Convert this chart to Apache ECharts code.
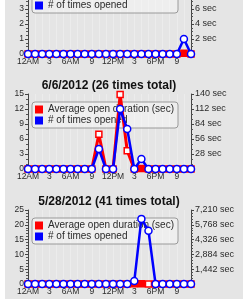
<!DOCTYPE html>
<html><head><meta charset="utf-8">
<script src="https://cdn.jsdelivr.net/npm/echarts@6/dist/echarts.min.js"></script>
<style>
html,body{margin:0;padding:0;background:#fff;width:243px;height:307px;overflow:hidden;}
#wrap{position:absolute;left:5px;top:0;width:238px;height:299px;overflow:hidden;background:#e5e5e5;}
#chart{position:absolute;left:0;top:-115px;width:238px;height:422px;}
</style></head><body><div id="wrap"><div id="chart"></div></div>
<script>
const hourCategories = ['12AM','1AM','2AM','3AM','4AM','5AM','6AM','7AM','8AM','9AM','10AM','11AM','12PM','1PM','2PM','3PM','4PM','5PM','6PM','7PM','8PM','9PM','10PM','11PM'];
const hourTickLabels = ['12AM','','','3','','','6AM','','','9','','','12PM','','','3','','','6PM','','','9','',''];
const seriesNames = ['Average open duration (sec)', '# of times opened'];
const chartTitles = ['', '6/6/2012 (26 times total)', '5/28/2012 (41 times total)'];

const counts1    = [0,0,0,0,0,0,0,0,0,0,0,0,0,0,0,0,0,0,0,0,0,0,1,0];
const durations1 = [0,0,0,0,0,0,0,0,0,0,0,0,0,0,0,0,0,0,0,0,0,0,0.1,0];
const counts2    = [0,0,0,0,0,0,0,0,0,0,4,0,0,12,8,0,2,0,0,0,0,0,0,0];
const durations2 = [0,0,0,0,0,0,0,0,0,0,65,0,0,139,34,0,1,0,0,0,0,0,0,0];
const counts3    = [0,0,0,0,0,0,0,0,0,0,0,0,0,0,0,1,22,18,0,0,0,0,0,0];
const durations3 = [0,0,0,0,0,0,0,0,0,0,0,0,0,0,0,20,30,0,0,0,0,0,0,0];

const leftMax = [5, 15, 25];
const leftStep = [1, 3, 5];
const rightMax = [10, 140, 7210];
const rightStep = [2, 28, 1442];

const counts = [counts1, counts2, counts3];
const durations = [durations1, durations2, durations3];

const FONT = 'Arial, "Liberation Sans", sans-serif';
const gridTops = [94, 209, 325];
const gridHeights = [75, 75, 74];
const minorSplits = [4, 3, 5];
const RED = '#ff0000', BLUE = '#0000ff';

const grids = [], xAxes = [], yAxes = [], series = [], titles = [], legends = [];
for (let i = 0; i < 3; i++) {
  grids.push({left: 23, right: 52, top: gridTops[i], height: gridHeights[i]});
  xAxes.push({
    type: 'category', gridIndex: i, boundaryGap: false, data: hourCategories,
    axisLine: {show: false}, axisTick: {show: false},
    axisLabel: {interval: 0, fontSize: 8.5, color: '#2a2a2a', fontFamily: FONT, margin: 3,
      formatter: (v, idx) => hourTickLabels[idx]},
    splitLine: {show: true, interval: 0, lineStyle: {color: '#ececec', width: 1}}
  });
  const axCommon = {
    type: 'value', gridIndex: i, min: 0,
    axisLine: {show: true, lineStyle: {color: '#444', width: 1}},
    axisTick: {show: true, length: 3, lineStyle: {color: '#444'}},
    minorTick: {show: true, splitNumber: minorSplits[i], length: 2, lineStyle: {color: '#555'}},
    splitLine: {show: false}
  };
  yAxes.push(Object.assign({}, axCommon, {
    position: 'left', max: leftMax[i], interval: leftStep[i],
    axisLabel: {fontSize: 8.5, color: '#2a2a2a', fontFamily: FONT, margin: 4}
  }));
  yAxes.push(Object.assign({}, axCommon, {
    position: 'right', max: rightMax[i], interval: rightStep[i],
    axisLabel: {fontSize: 9, color: '#2a2a2a', fontFamily: FONT, margin: 4, showMinLabel: false,
      formatter: v => v === 0 ? '' : v.toLocaleString('en-US') + ' sec'}
  }));
  const rm = rightMax[i];
  series.push({
    name: seriesNames[0], type: 'line', xAxisIndex: i, yAxisIndex: 2 * i + 1, z: 3,
    data: durations[i].map(v => ({value: v,
      itemStyle: {color: (v > 0 && v < rm * 0.03) ? RED : '#ffffff'}})),
    symbol: 'rect', symbolSize: 6,
    itemStyle: {color: '#ffffff', borderColor: RED, borderWidth: 1.5},
    lineStyle: {color: RED, width: 3}, animation: false
  });
  series.push({
    name: seriesNames[1], type: 'line', xAxisIndex: i, yAxisIndex: 2 * i, z: 4,
    data: counts[i], symbol: 'circle', symbolSize: 7,
    itemStyle: {color: '#ffffff', borderColor: BLUE, borderWidth: 1.5},
    lineStyle: {color: BLUE, width: 2.5}, animation: false
  });
  if (chartTitles[i]) {
    titles.push({text: chartTitles[i], left: 104, textAlign: 'center', top: gridTops[i] - 14, padding: 0,
      textStyle: {fontSize: 12, fontWeight: 'bold', color: '#111', fontFamily: FONT}});
  }
  legends.push({
    z: 1, orient: 'vertical', left: 27, top: gridTops[i] + 8, padding: [2, 4, 2, 3],
    itemGap: 0, itemWidth: 8, itemHeight: 8, itemTextGap: 4, icon: 'rect', selectedMode: false,
    backgroundColor: 'rgba(255,255,255,0.35)', borderColor: '#999', borderWidth: 1, borderRadius: 3,
    textStyle: {fontSize: 10, color: '#2a2a2a', fontFamily: FONT, lineHeight: 11},
    data: [
      {name: seriesNames[0], itemStyle: {color: RED, borderWidth: 0}},
      {name: seriesNames[1], itemStyle: {color: BLUE, borderWidth: 0}}
    ]
  });
}

const chart = echarts.init(document.getElementById('chart'), null, {renderer: 'canvas'});
chart.setOption({
  animation: false, backgroundColor: 'transparent',
  title: titles, legend: legends, grid: grids, xAxis: xAxes, yAxis: yAxes, series: series
});
</script></body></html>
